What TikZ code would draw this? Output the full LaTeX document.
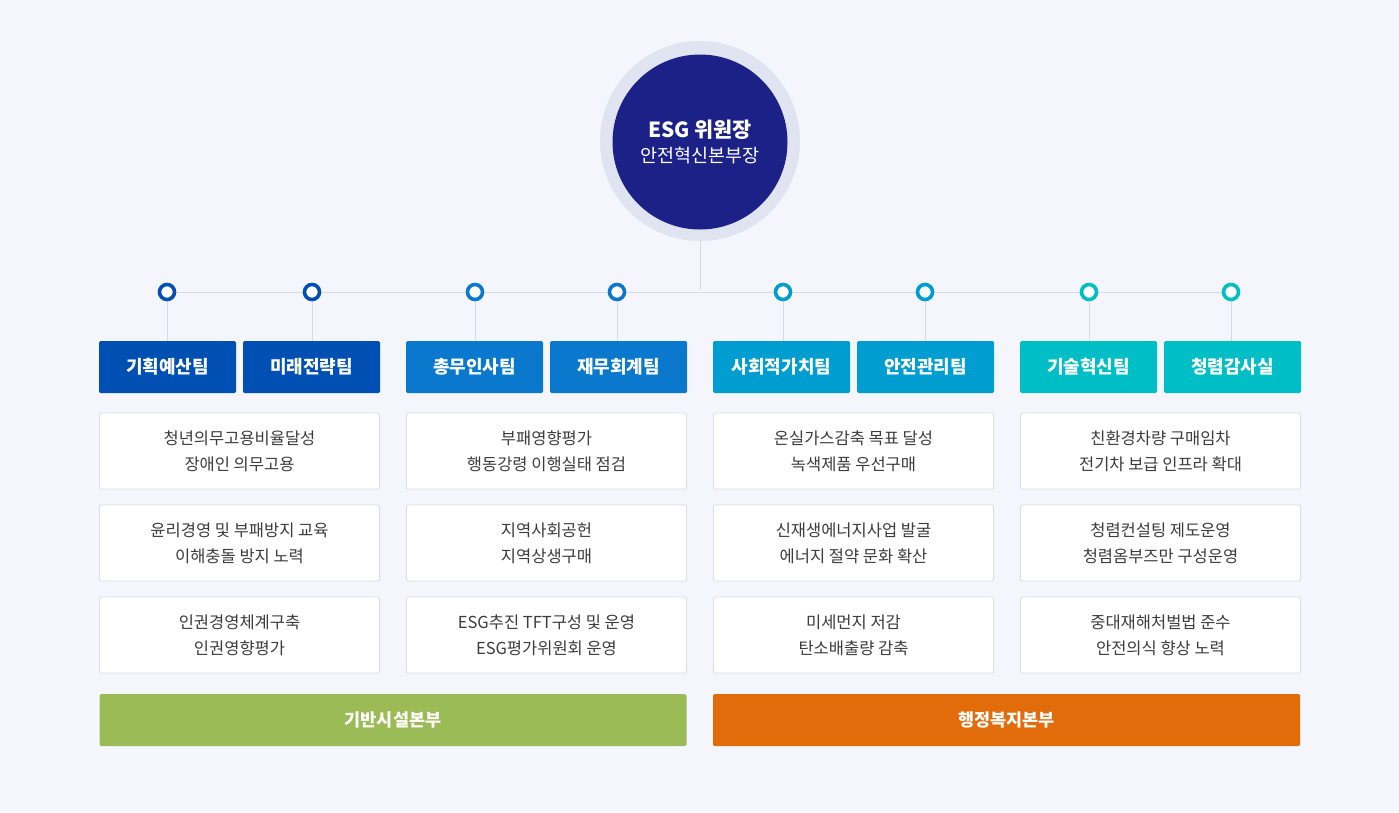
\documentclass[tikz,border=0pt]{standalone}
\usepackage{fontspec}
\setmainfont{Noto Sans CJK KR}
\newfontfamily\kr{Noto Sans CJK KR}
\begin{document}
\begin{tikzpicture}[x=1pt,y=-1pt,
  font=\kr,
  line/.style={draw=lineg,line width=0.8pt},
  dot/.style={circle,draw=#1,line width=3.6pt,fill=white,minimum size=15pt,inner sep=0pt},
  team/.style={fill=#1,rounded corners=1.5pt,minimum width=137pt,minimum height=52pt,inner sep=0pt,text=white,font=\kr\bfseries\fontsize{18}{20}\selectfont},
  card/.style={draw=cardb,line width=0.8pt,fill=white,rounded corners=1.5pt,minimum width=280pt,minimum height=76pt,inner sep=0pt,align=center,text=txt,font=\kr\fontsize{16.5}{26}\selectfont},
  bar/.style={fill=#1,rounded corners=1.5pt,minimum width=587pt,minimum height=52pt,inner sep=0pt,text=white,font=\kr\bfseries\fontsize{17.5}{20}\selectfont}
]
\definecolor{bg}{RGB}{245,246,253}
\definecolor{ring}{RGB}{224,227,240}
\definecolor{navy}{RGB}{28,33,136}
\definecolor{lineg}{RGB}{216,217,226}
\definecolor{cardb}{RGB}{220,221,227}
\definecolor{txt}{RGB}{60,60,60}
\definecolor{cA}{RGB}{0,80,180}
\definecolor{cB}{RGB}{10,120,204}
\definecolor{cC}{RGB}{0,157,208}
\definecolor{cD}{RGB}{0,190,197}
\definecolor{green}{RGB}{155,187,87}
\definecolor{orange}{RGB}{226,107,10}
\fill[bg] (0,0) rectangle (1399,812);
\useasboundingbox (0,0) rectangle (1399,812);

% top circle
\node[circle,fill=ring,minimum size=200pt,inner sep=0pt] (ceo) at (700,141) {};
\node[circle,fill=navy,minimum size=175pt,inner sep=0pt,align=center,text=white] (ceoin) at (700,142)
  {{\bfseries\fontsize{20.8}{22}\selectfont ESG 위원장}\\[7pt]{\fontsize{18.5}{20}\selectfont 안전혁신본부장}};

\coordinate (hub) at (700,290);
\draw[line] (ceo.south) -- (hub);

% dots
\foreach \n/\x/\c in {d1/167/cA,d2/312/cA,d3/475/cB,d4/617/cB,d5/783/cC,d6/925/cC,d7/1089/cD,d8/1231/cD}
  \coordinate (\n) at (\x,292);
\draw[line] (d1) -- (d8);

% teams
\node[team=cA] (t1) at (167.5,367) {기획예산팀};
\node[team=cA] (t2) at (311.5,367) {미래전략팀};
\node[team=cB] (t3) at (474.5,367) {총무인사팀};
\node[team=cB] (t4) at (618.5,367) {재무회계팀};
\node[team=cC] (t5) at (781.5,367) {사회적가치팀};
\node[team=cC] (t6) at (925.5,367) {안전관리팀};
\node[team=cD] (t7) at (1088.5,367) {기술혁신팀};
\node[team=cD] (t8) at (1232.5,367) {청렴감사실};

\foreach \i in {1,...,8} \draw[line] (d\i) -- (d\i |- t\i.north);

\node[dot=cA] (n1) at (d1) {};
\node[dot=cA] (n2) at (d2) {};
\node[dot=cB] (n3) at (d3) {};
\node[dot=cB] (n4) at (d4) {};
\node[dot=cC] (n5) at (d5) {};
\node[dot=cC] (n6) at (d6) {};
\node[dot=cD] (n7) at (d7) {};
\node[dot=cD] (n8) at (d8) {};

% cards
\node[card] (a1) at (239.5,451) {청년의무고용비율달성\\장애인 의무고용};
\node[card] (a2) at (239.5,543) {윤리경영 및 부패방지 교육\\이해충돌 방지 노력};
\node[card] (a3) at (239.5,635) {인권경영체계구축\\인권영향평가};
\node[card] (b1) at (546.5,451) {부패영향평가\\행동강령 이행실태 점검};
\node[card] (b2) at (546.5,543) {지역사회공헌\\지역상생구매};
\node[card] (b3) at (546.5,635) {ESG추진 TFT구성 및 운영\\ESG평가위원회 운영};
\node[card] (c1) at (853.5,451) {온실가스감축 목표 달성\\녹색제품 우선구매};
\node[card] (c2) at (853.5,543) {신재생에너지사업 발굴\\에너지 절약 문화 확산};
\node[card] (c3) at (853.5,635) {미세먼지 저감\\탄소배출량 감축};
\node[card] (e1) at (1160.5,451) {친환경차량 구매임차\\전기차 보급 인프라 확대};
\node[card] (e2) at (1160.5,543) {청렴컨설팅 제도운영\\청렴옴부즈만 구성운영};
\node[card] (e3) at (1160.5,635) {중대재해처벌법 준수\\안전의식 향상 노력};

% bars
\node[bar=green] (g1) at (393,720) {기반시설본부};
\node[bar=orange] (g2) at (1006.5,720) {행정복지본부};
\end{tikzpicture}
\end{document}
